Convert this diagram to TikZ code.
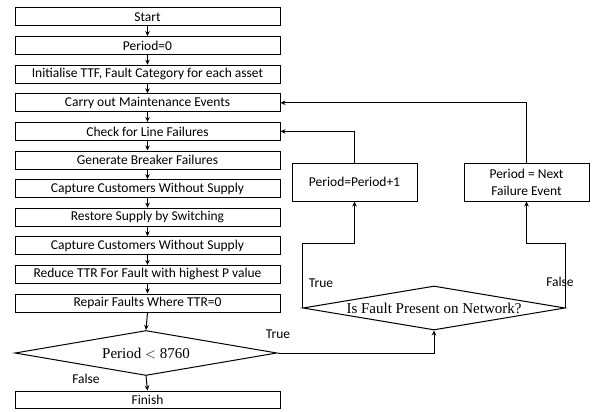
\documentclass[tikz,border=0pt]{standalone}
\usepackage{fontspec}
\setmainfont{Carlito}
\newfontfamily\diafont{Liberation Serif}
\usetikzlibrary{shapes.geometric,arrows.meta}
\begin{document}
\begin{tikzpicture}[x=1pt,y=-1pt,
  every node/.style={inner sep=0pt},
  flowbox/.style={draw,line width=1pt,minimum width=265pt,minimum height=18pt,font=\fontsize{13.5}{15}\selectfont},
  sidebox/.style={draw,line width=1pt,minimum width=125pt,minimum height=38pt,align=center,font=\fontsize{13.5}{17}\selectfont},
  decision/.style={draw,diamond,line width=1pt},
  dtext/.style={font=\diafont\fontsize{15}{17}\selectfont},
  lbl/.style={font=\fontsize{13.5}{15}\selectfont},
  arr/.style={line width=1pt,-{Stealth[length=5pt,width=4.5pt]}}]
\useasboundingbox (0,0) rectangle (592,412);
\node[flowbox] (b0) at (147.5,17) {Start};
\node[flowbox] (b1) at (147.5,45.6) {Period=0};
\node[flowbox] (b2) at (147.5,74.2) {Initialise TTF, Fault Category for each asset};
\node[flowbox] (b3) at (147.5,102.8) {Carry out Maintenance Events};
\node[flowbox] (b4) at (147.5,131.4) {Check for Line Failures};
\node[flowbox] (b5) at (147.5,160) {Generate Breaker Failures};
\node[flowbox] (b6) at (147.5,188.6) {Capture Customers Without Supply};
\node[flowbox] (b7) at (147.5,217.2) {Restore Supply by Switching};
\node[flowbox] (b8) at (147.5,245.8) {Capture Customers Without Supply};
\node[flowbox] (b9) at (147.5,274.4) {Reduce TTR For Fault with highest P value};
\node[flowbox] (b10) at (147.5,303) {Repair Faults Where TTR=0};
\node[decision,minimum width=262pt,minimum height=45pt] (d1) at (146,353) {};
\node[dtext] (d1t) at (d1.center) {Period $<$ 8760};
\node[flowbox,minimum height=17pt] (fin) at (147.5,399.5) {Finish};
\node[decision,minimum width=262pt,minimum height=44pt] (d2) at (434,308) {};
\node[dtext] (d2t) at (d2.center) {Is Fault Present on Network?};
\node[sidebox] (p1) at (354.5,182) {Period=Period+1};
\node[sidebox] (p2) at (526.5,182) {Period = Next\\Failure Event};
\coordinate (c1) at (354.5,243);
\coordinate (c2) at (526.5,243);
\foreach \a/\b in {b0/b1,b1/b2,b2/b3,b3/b4,b4/b5,b5/b6,b6/b7,b7/b8,b8/b9,b9/b10}
  \draw[arr] (\a.south) -- (\b.north);
\draw[arr] (b10.south) -- (d1.north);
\draw[arr] (d1.south) -- (fin.north);
\draw[arr] (d1.east) -| (d2.south);
\draw[arr] (d2.west) |- (c1) -- (p1.south);
\draw[arr] (d2.east) |- (c2) -- (p2.south);
\draw[arr] (p1.north) |- (b4.east);
\draw[arr] (p2.north) |- (b3.east);
\node[lbl] (t1) at (321,283) {True};
\node[lbl] (f1) at (560,282) {False};
\node[lbl] (t2) at (278,334) {True};
\node[lbl] (f2) at (86,379) {False};
\end{tikzpicture}
\end{document}
